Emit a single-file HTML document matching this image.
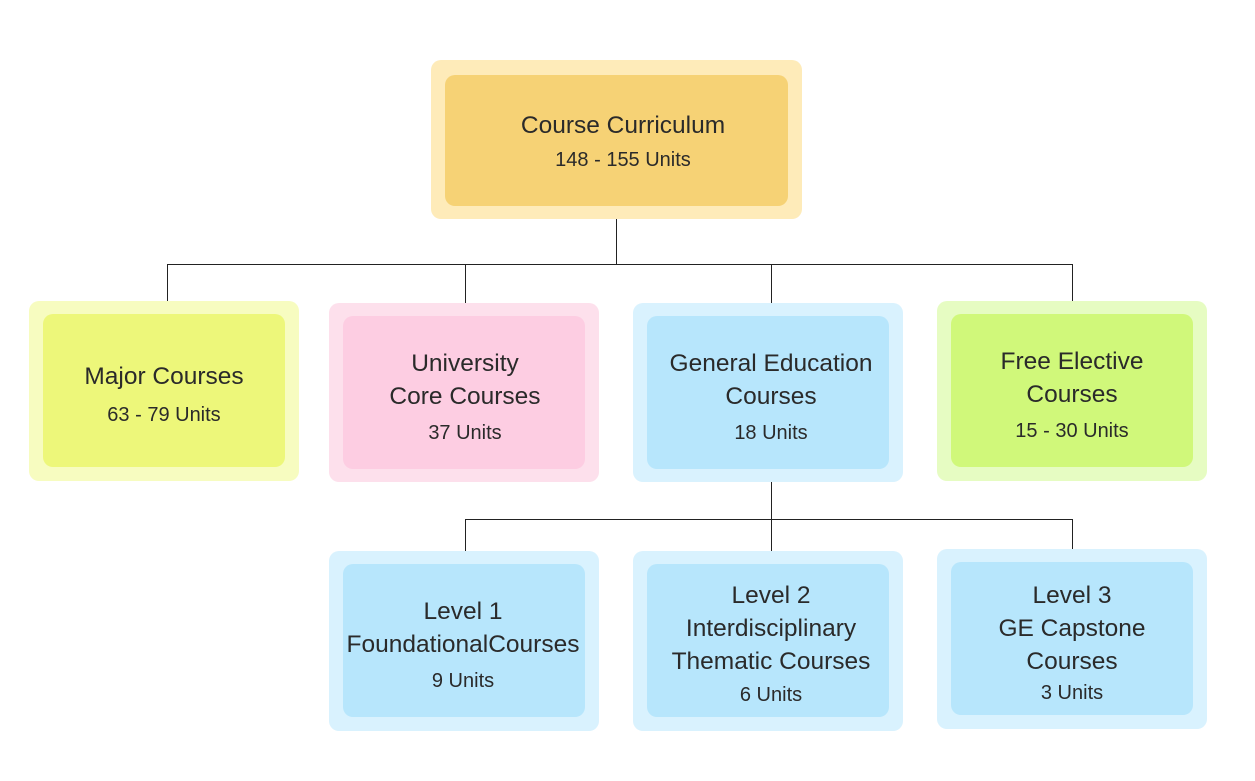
<!DOCTYPE html>
<html><head><style>
body{margin:0;width:1255px;height:781px;background:#fff;position:relative;overflow:hidden;font-family:"Liberation Sans",Arial,sans-serif;color:#2a2a2a}
.o,.i{position:absolute;border-radius:10px}
.t{position:absolute;width:300px;text-align:center;font-size:24.5px;line-height:28px;margin-top:-12px;white-space:nowrap}
.u{position:absolute;width:300px;text-align:center;font-size:20px;line-height:24px;margin-top:-10px}
.l{position:absolute;background:#222}
</style></head><body>
<div class="l" style="left:616px;top:219px;width:1px;height:45px"></div>
<div class="l" style="left:167px;top:264px;width:906px;height:1px"></div>
<div class="l" style="left:167px;top:264px;width:1px;height:37px"></div>
<div class="l" style="left:465px;top:264px;width:1px;height:39px"></div>
<div class="l" style="left:771px;top:264px;width:1px;height:39px"></div>
<div class="l" style="left:1072px;top:264px;width:1px;height:37px"></div>
<div class="l" style="left:771px;top:482px;width:1px;height:37px"></div>
<div class="l" style="left:465px;top:519px;width:608px;height:1px"></div>
<div class="l" style="left:465px;top:519px;width:1px;height:32px"></div>
<div class="l" style="left:771px;top:519px;width:1px;height:32px"></div>
<div class="l" style="left:1072px;top:519px;width:1px;height:30px"></div>

<div class="o" style="left:431px;top:60px;width:371px;height:159px;background:#feebb9"></div>
<div class="i" style="left:445px;top:75px;width:343px;height:131px;background:#f6d275"></div>
<div class="t" style="left:473px;top:124px">Course Curriculum</div>
<div class="u" style="left:473px;top:158px">148 - 155 Units</div>

<div class="o" style="left:29px;top:301px;width:270px;height:180px;background:#f7fcc0"></div>
<div class="i" style="left:43px;top:314px;width:242px;height:153px;background:#edf77a"></div>
<div class="t" style="left:14px;top:375px">Major Courses</div>
<div class="u" style="left:14px;top:413px">63 - 79 Units</div>

<div class="o" style="left:329px;top:303px;width:270px;height:179px;background:#fde0ec"></div>
<div class="i" style="left:343px;top:316px;width:242px;height:153px;background:#fdcde2"></div>
<div class="t" style="left:315px;top:362px">University</div>
<div class="t" style="left:315px;top:395px">Core Courses</div>
<div class="u" style="left:315px;top:431px">37 Units</div>

<div class="o" style="left:633px;top:303px;width:270px;height:179px;background:#d9f2fe"></div>
<div class="i" style="left:647px;top:316px;width:242px;height:153px;background:#b7e6fc"></div>
<div class="t" style="left:621px;top:362px">General Education</div>
<div class="t" style="left:621px;top:395px">Courses</div>
<div class="u" style="left:621px;top:431px">18 Units</div>

<div class="o" style="left:937px;top:301px;width:270px;height:180px;background:#e6fcc2"></div>
<div class="i" style="left:951px;top:314px;width:242px;height:153px;background:#d0f87a"></div>
<div class="t" style="left:922px;top:360px">Free Elective</div>
<div class="t" style="left:922px;top:393px">Courses</div>
<div class="u" style="left:922px;top:429px">15 - 30 Units</div>

<div class="o" style="left:329px;top:551px;width:270px;height:180px;background:#d9f2fe"></div>
<div class="i" style="left:343px;top:564px;width:242px;height:153px;background:#b7e6fc"></div>
<div class="t" style="left:313px;top:610px">Level 1</div>
<div class="t" style="left:313px;top:643px">FoundationalCourses</div>
<div class="u" style="left:313px;top:679px">9 Units</div>

<div class="o" style="left:633px;top:551px;width:270px;height:180px;background:#d9f2fe"></div>
<div class="i" style="left:647px;top:564px;width:242px;height:153px;background:#b7e6fc"></div>
<div class="t" style="left:621px;top:594px">Level 2</div>
<div class="t" style="left:621px;top:627px">Interdisciplinary</div>
<div class="t" style="left:621px;top:660px">Thematic Courses</div>
<div class="u" style="left:621px;top:693px">6 Units</div>

<div class="o" style="left:937px;top:549px;width:270px;height:180px;background:#d9f2fe"></div>
<div class="i" style="left:951px;top:562px;width:242px;height:153px;background:#b7e6fc"></div>
<div class="t" style="left:922px;top:594px">Level 3</div>
<div class="t" style="left:922px;top:627px">GE Capstone</div>
<div class="t" style="left:922px;top:660px">Courses</div>
<div class="u" style="left:922px;top:691px">3 Units</div>
</body></html>
